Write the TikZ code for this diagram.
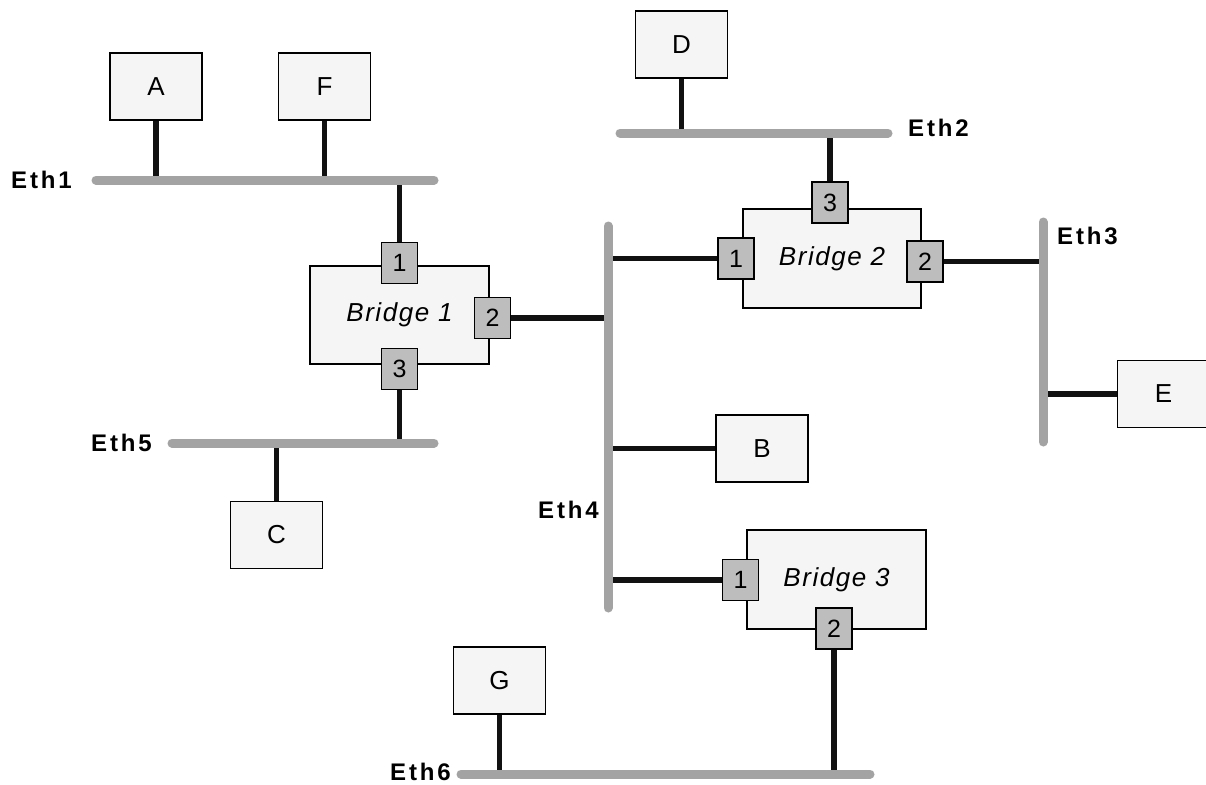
\documentclass[tikz,border=0pt]{standalone}
\usepackage{fontspec}
\setmainfont{Liberation Sans}
\definecolor{boxfill}{HTML}{F5F5F5}
\definecolor{portfill}{HTML}{BDBDBD}
\definecolor{barcol}{HTML}{A3A3A3}
\definecolor{stemcol}{HTML}{111111}
\begin{document}
\begin{tikzpicture}[x=1pt,y=-1pt,
 host/.style={draw=black, line width=1.3pt, fill=boxfill, minimum width=92pt, minimum height=67pt, inner sep=0pt, font=\fontsize{26}{30}\selectfont},
 bridge/.style={draw=black, line width=1.3pt, fill=boxfill, inner sep=0pt, font=\fontsize{26}{30}\selectfont\itshape\addfontfeature{LetterSpace=6}},
 port/.style={draw=black, line width=1.3pt, fill=portfill, minimum width=36pt, minimum height=41pt, inner sep=0pt, font=\fontsize{25}{28}\selectfont},
 bar/.style={line width=9pt, draw=barcol, line cap=round},
 link/.style={line width=5.5pt, draw=stemcol},
 eth/.style={font=\fontsize{24}{28}\selectfont\bfseries\addfontfeature{LetterSpace=12}, inner sep=0pt}]
\useasboundingbox (0,0) rectangle (1206,784);

% bar end points
\coordinate (e1a) at (96,180);  \coordinate (e1b) at (434,180);
\coordinate (e5a) at (172,443); \coordinate (e5b) at (434,443);
\coordinate (e2a) at (620,133); \coordinate (e2b) at (888,133);
\coordinate (e4a) at (608,226); \coordinate (e4b) at (608,608);
\coordinate (e3a) at (1043,222); \coordinate (e3b) at (1043,442);
\coordinate (e6a) at (461,774); \coordinate (e6b) at (870,774);

% hosts
\node[host] (A) at (156,86.5) {A};
\node[host] (F) at (324.5,86.5) {F};
\node[host] (D) at (681.5,44.5) {D};
\node[host] (C) at (276.5,535) {C};
\node[host] (B) at (762,448.5) {B};
\node[host] (E) at (1163.5,394) {E};
\node[host] (G) at (499.5,680.5) {G};

% bridges
\node[bridge, minimum width=179pt, minimum height=98pt] (B1) at (399.5,315) {Bridge 1};
\node[port] (B1p1) at (399.5,263) {1};
\node[port] (B1p2) at (492.5,318) {2};
\node[port] (B1p3) at (399.5,369) {3};

\node[bridge, minimum width=178pt, minimum height=99pt] (B2) at (832,258.5) {Bridge 2};
\node[port] (B2p3) at (830,202.5) {3};
\node[port] (B2p1) at (736,258.5) {1};
\node[port] (B2p2) at (925,261.5) {2};

\node[bridge, minimum width=179pt, minimum height=99pt] (B3) at (836.5,579.5) {Bridge 3};
\node[port] (B3p1) at (740.5,580) {1};
\node[port] (B3p2) at (834,628.5) {2};

% links (stems)
\draw[link] (A.south) -- (A.south |- e1a);
\draw[link] (F.south) -- (F.south |- e1a);
\draw[link] (B1p1.north) -- (B1p1.north |- e1a);
\draw[link] (B1p3.south) -- (B1p3.south |- e5a);
\draw[link] (C.north) -- (C.north |- e5a);
\draw[link] (B1p2.east) -- (B1p2.east -| e4a);
\draw[link] (D.south) -- (D.south |- e2a);
\draw[link] (B2p3.north) -- (B2p3.north |- e2a);
\draw[link] (B2p1.west) -- (B2p1.west -| e4a);
\draw[link] (B2p2.east) -- (B2p2.east -| e3a);
\draw[link] (E.west) -- (E.west -| e3a);
\draw[link] (B.west) -- (B.west -| e4a);
\draw[link] (B3p1.west) -- (B3p1.west -| e4a);
\draw[link] (B3p2.south) -- (B3p2.south |- e6a);
\draw[link] (G.south) -- (G.south |- e6a);

% bars
\draw[bar] (e1a) -- (e1b);
\draw[bar] (e5a) -- (e5b);
\draw[bar] (e2a) -- (e2b);
\draw[bar] (e4a) -- (e4b);
\draw[bar] (e3a) -- (e3b);
\draw[bar] (e6a) -- (e6b);

% labels
\node[eth, anchor=east] (l1) at (72,180) {Eth1};
\node[eth, anchor=east] (l5) at (152,443) {Eth5};
\node[eth, anchor=west] (l2) at (908,128) {Eth2};
\node[eth, anchor=west] (l3) at (1057,236) {Eth3};
\node[eth, anchor=east] (l4) at (599,510) {Eth4};
\node[eth, anchor=east] (l6) at (451,772) {Eth6};
\end{tikzpicture}
\end{document}
